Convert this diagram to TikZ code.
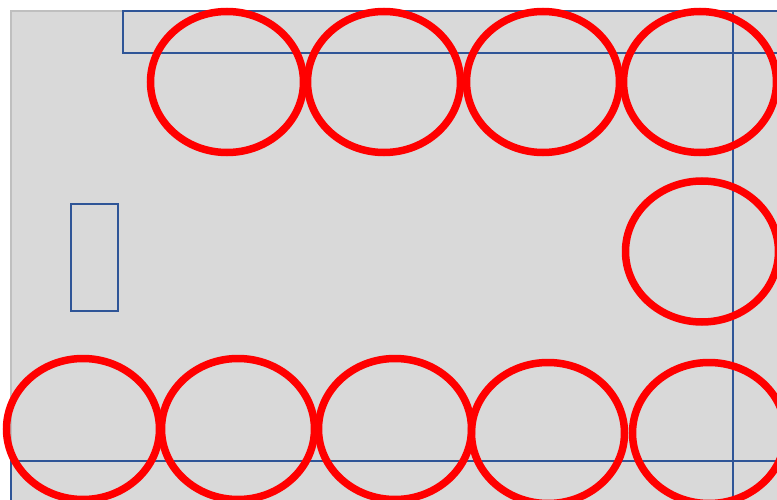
\documentclass[tikz,border=0pt]{standalone}
\usetikzlibrary{shapes.geometric}
\definecolor{bgfill}{HTML}{D9D9D9}
\definecolor{bgline}{HTML}{BFBFBF}
\definecolor{frameblue}{HTML}{2F5597}
\tikzset{
  ring/.style={ellipse, draw=red, line width=7.5pt, inner sep=0pt,
    minimum width=153pt, minimum height=141pt},
  bluebox/.style={draw=frameblue, line width=2pt, inner sep=0pt},
}
\begin{document}
\begin{tikzpicture}[x=1pt,y=-1pt]
\useasboundingbox (0,0) rectangle (777,500);
\clip (0,0) rectangle (777,500);
\fill[white] (0,0) rectangle (777,500);
% grey panel
\draw[fill=bgfill, draw=bgline, line width=1.5pt] (11,11) rectangle (800,520);
% blue frames
\draw[frameblue, line width=2pt] (123,11) rectangle (800,53);
\draw[frameblue, line width=2pt] (733,11) rectangle (800,520);
\draw[frameblue, line width=2pt] (11,461) rectangle (800,520);
\node[bluebox, minimum width=47pt, minimum height=107pt] (small) at (94.5,257.5) {};
% rings
\node[ring] (t1) at (227,82) {};
\node[ring] (t2) at (384,82) {};
\node[ring] (t3) at (543,82) {};
\node[ring] (t4) at (700,82) {};
\node[ring] (m1) at (702,251.5) {};
\node[ring] (b1) at (83,429) {};
\node[ring] (b2) at (238,429) {};
\node[ring] (b3) at (395,429) {};
\node[ring] (b4) at (548,433) {};
\node[ring] (b5) at (709,433) {};
\end{tikzpicture}
\end{document}
